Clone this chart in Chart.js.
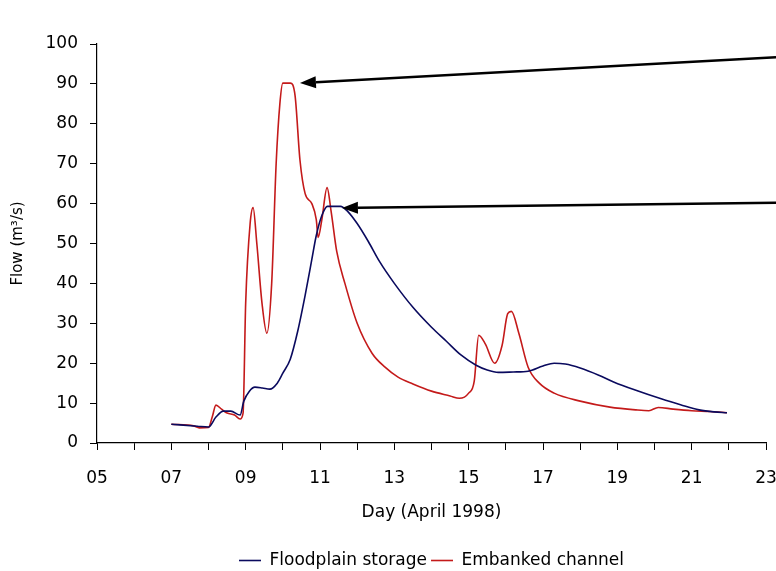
<!DOCTYPE html>
<html>
<head>
<meta charset="utf-8">
<script src="https://cdn.jsdelivr.net/npm/chart.js@4/dist/chart.umd.min.js"></script>
<style>
  html, body { margin: 0; padding: 0; background: #fff; }
  #wrap { width: 776px; height: 571px; }
</style>
</head>
<body>
<div id="wrap"><canvas id="chart" width="776" height="571"></canvas></div>
<script>
// floodplain storage (blue)
var fpDays = [7.0, 7.7, 8.0, 8.2, 8.4, 8.6, 8.85, 8.95, 9.1, 9.25, 9.45, 9.65, 9.85, 10.0, 10.2, 10.4, 10.6, 10.78, 10.9, 11.05, 11.2, 11.55, 11.75, 12.0, 12.3, 12.6, 13.0, 13.5, 14.0, 14.4, 14.8, 15.2, 15.5, 15.8, 16.2, 16.6, 17.0, 17.3, 17.6, 18.0, 18.5, 18.9, 19.5, 20.2, 20.7, 21.2, 21.6, 21.95];
var fpFlow = [4.7, 4.2, 4.0, 6.5, 8, 8, 7, 10.5, 13, 14, 13.8, 13.5, 15, 17.5, 21, 28, 37, 46, 52, 57, 59.3, 59.3, 58, 55, 50.5, 45.5, 40, 34, 29, 25.5, 22, 19.5, 18.3, 17.7, 17.8, 18, 19.3, 20, 19.8, 18.8, 17, 15.3, 13.2, 11, 9.6, 8.3, 7.8, 7.6];

// embanked channel (red)
var embDays = [7.0, 7.6, 7.75, 8.0, 8.1, 8.2, 8.35, 8.5, 8.7, 8.85, 8.93, 9.0, 9.12, 9.2, 9.3, 9.44, 9.57, 9.7, 9.82, 9.92, 10.0, 10.2, 10.33, 10.46, 10.6, 10.78, 10.9, 10.95, 11.05, 11.19, 11.3, 11.45, 11.67, 12.0, 12.4, 12.75, 13.1, 13.5, 14.0, 14.5, 14.75, 15.0, 15.15, 15.27, 15.45, 15.7, 15.9, 16.05, 16.15, 16.35, 16.6, 16.9, 17.3, 18.0, 18.8, 19.5, 19.85, 20.1, 20.5, 21.0, 21.5, 21.95];
var embFlow = [4.7, 4.3, 3.8, 3.9, 6.5, 9.5, 8.5, 7.5, 7, 6, 7.5, 35, 55, 59, 50, 35, 27.5, 40, 70, 85, 90.2, 90.2, 87, 71, 62.5, 60, 56, 51.5, 56, 64, 58, 48, 40, 30, 22.5, 19, 16.5, 14.8, 13, 11.8, 11.2, 12.5, 15.5, 27, 24.8, 20, 24.5, 32.4, 33, 27.5, 19, 15, 12.5, 10.5, 9, 8.3, 8.1, 8.9, 8.5, 8.1, 7.9, 7.6];

var seriesNames = ['Floodplain storage', 'Embanked channel'];

// arrows: tip at (day, flow), tail at right edge of the picture at tail flow
var arrowTipDay = [10.46, 11.59];
var arrowTipFlow = [90.2, 58.9];
var arrowTailFlow = [96.7, 60.2];

var FONT = "'DejaVu Sans', Verdana, sans-serif";

function toPoints(xs, ys) {
  var out = [];
  for (var i = 0; i < xs.length; i++) out.push({x: xs[i], y: ys[i]});
  return out;
}

var arrowPlugin = {
  id: 'arrows',
  afterDatasetsDraw: function(chart) {
    var ctx = chart.ctx;
    var xs = chart.scales.x, ys = chart.scales.y;
    var headLen = 16, headHalf = 6;
    ctx.save();
    ctx.strokeStyle = '#000';
    ctx.fillStyle = '#000';
    ctx.lineWidth = 2.5;
    for (var i = 0; i < arrowTipDay.length; i++) {
      var tx = xs.getPixelForValue(arrowTipDay[i]);
      var ty = ys.getPixelForValue(arrowTipFlow[i]);
      var sx = chart.width;
      var sy = ys.getPixelForValue(arrowTailFlow[i]);
      var ang = Math.atan2(ty - sy, tx - sx);
      var bx = tx - Math.cos(ang) * headLen;
      var by = ty - Math.sin(ang) * headLen;
      ctx.beginPath();
      ctx.moveTo(sx, sy);
      ctx.lineTo(bx, by);
      ctx.stroke();
      ctx.beginPath();
      ctx.moveTo(tx, ty);
      ctx.lineTo(bx - Math.sin(ang) * headHalf, by + Math.cos(ang) * headHalf);
      ctx.lineTo(bx + Math.sin(ang) * headHalf, by - Math.cos(ang) * headHalf);
      ctx.closePath();
      ctx.fill();
    }
    ctx.restore();
  }
};

var ctx = document.getElementById('chart').getContext('2d');
var chartObj = new Chart(ctx, {
  type: 'line',
  data: {
    datasets: [
      {
        label: seriesNames[0],
        data: toPoints(fpDays, fpFlow),
        borderColor: '#0a0a5e',
        backgroundColor: '#0a0a5e',
        borderWidth: 1.6,
        pointRadius: 0,
        cubicInterpolationMode: 'monotone',
        fill: false
      },
      {
        label: seriesNames[1],
        data: toPoints(embDays, embFlow),
        borderColor: '#c41a1a',
        backgroundColor: '#c41a1a',
        borderWidth: 1.6,
        pointRadius: 0,
        cubicInterpolationMode: 'monotone',
        fill: false
      }
    ]
  },
  options: {
    responsive: false,
    animation: false,
    // negative bottom padding pushes the legend down to the bottom edge
    layout: { padding: { top: 44, right: 10, left: 0, bottom: -8 } },
    plugins: {
      tooltip: { enabled: false },
      legend: {
        position: 'bottom',
        fullSize: false,
        labels: {
          usePointStyle: true,
          pointStyle: 'line',
          pointStyleWidth: 22,
          padding: 4,
          color: '#000',
          font: { family: FONT, size: 17 }
        }
      }
    },
    scales: {
      x: {
        type: 'linear',
        min: 5,
        max: 23,
        afterFit: function(scale) {
          scale.height = 105;
          scale.paddingLeft = 0;
          scale.paddingRight = 10;
        },
        border: { display: true, color: '#000', width: 1.2 },
        grid: { drawOnChartArea: false, drawTicks: true, tickLength: 7, color: '#000' },
        ticks: {
          stepSize: 1,
          autoSkip: false,
          maxRotation: 0,
          padding: 18,
          color: '#000',
          font: { family: FONT, size: 17 },
          callback: function(v) {
            if (v % 2 === 0) return '';
            return (v < 10 ? '0' : '') + v;
          }
        },
        title: {
          display: true,
          text: 'Day (April 1998)',
          color: '#000',
          font: { family: FONT, size: 17 },
          padding: { top: 4, bottom: 25 }
        }
      },
      y: {
        min: 0,
        max: 100,
        afterFit: function(scale) { scale.width = 97; },
        border: { display: true, color: '#000', width: 1.2 },
        grid: { drawOnChartArea: false, drawTicks: true, tickLength: 7, color: '#000' },
        ticks: {
          stepSize: 10,
          padding: 12,
          color: '#000',
          font: { family: FONT, size: 17 }
        },
        title: {
          display: true,
          text: 'Flow (m³/s)',
          color: '#000',
          font: { family: FONT, size: 15 },
          padding: { top: 9, bottom: 4 }
        }
      }
    }
  },
  plugins: [arrowPlugin]
});
</script>
</body>
</html>
